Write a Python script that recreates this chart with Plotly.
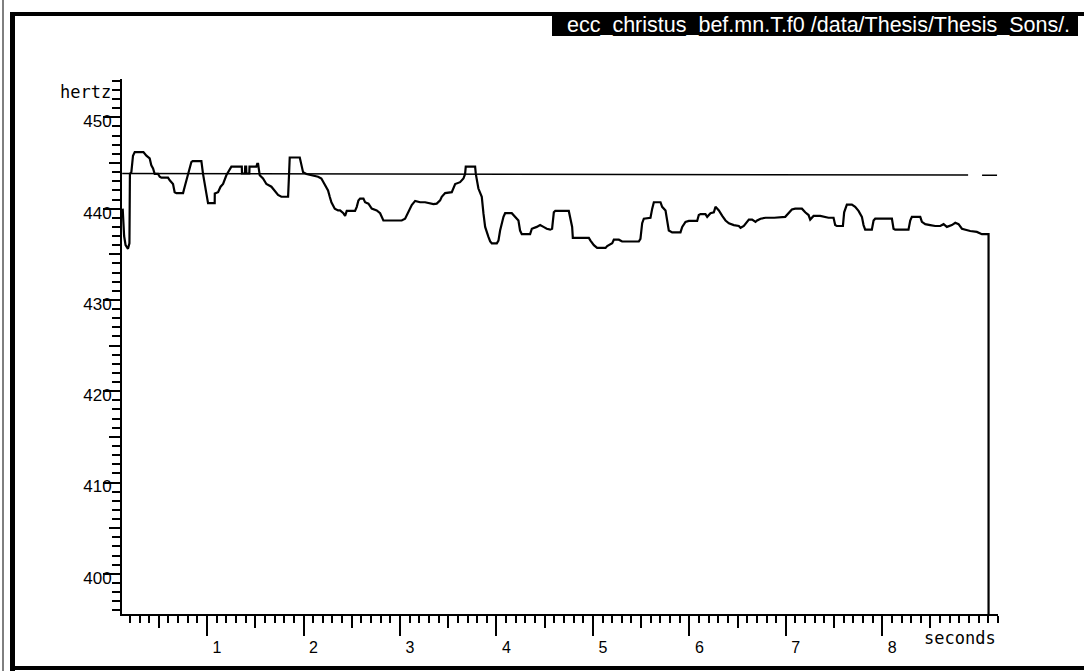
import plotly.graph_objects as go

# ---------------- data ----------------
time_s = [0.125, 0.14, 0.155, 0.18, 0.195, 0.20, 0.215, 0.232, 0.25, 0.34, 0.371, 0.405, 0.422, 0.44, 0.457,
          0.492, 0.509, 0.526, 0.595, 0.613, 0.647, 0.664, 0.682, 0.751, 0.768, 0.785, 0.803, 0.82, 0.837, 0.85,
          0.941, 0.958, 0.976, 0.993, 1.01, 1.079, 1.08, 1.114, 1.14, 1.166, 1.2, 1.217, 1.252, 1.36, 1.362,
          1.393, 1.395, 1.405, 1.407, 1.438, 1.44, 1.511, 1.52, 1.529, 1.546, 1.58, 1.615, 1.667, 1.701, 1.736,
          1.77, 1.84, 1.85, 1.857, 1.961, 1.978, 1.995, 2.03, 2.082, 2.151, 2.185, 2.22, 2.254, 2.272, 2.289,
          2.324, 2.358, 2.379, 2.413, 2.431, 2.448, 2.534, 2.552, 2.569, 2.586, 2.621, 2.638, 2.673, 2.707,
          2.759, 2.794, 2.828, 3.018, 3.053, 3.087, 3.122, 3.157, 3.209, 3.26, 3.295, 3.347, 3.381, 3.416,
          3.433, 3.468, 3.537, 3.554, 3.572, 3.623, 3.658, 3.675, 3.682, 3.779, 3.786, 3.813, 3.848, 3.865,
          3.883, 3.917, 3.935, 3.952, 4.004, 4.021, 4.038, 4.073, 4.09, 4.159, 4.194, 4.228, 4.245, 4.263,
          4.349, 4.367, 4.418, 4.453, 4.488, 4.522, 4.557, 4.577, 4.595, 4.61, 4.75, 4.767, 4.785, 4.792,
          4.958, 4.975, 5.01, 5.044, 5.131, 5.148, 5.2, 5.217, 5.269, 5.303, 5.476, 5.493, 5.511, 5.528,
          5.597, 5.615, 5.632, 5.701, 5.718, 5.753, 5.77, 5.787, 5.822, 5.908, 5.926, 5.96, 5.995, 6.081,
          6.098, 6.116, 6.167, 6.185, 6.219, 6.254, 6.271, 6.306, 6.341, 6.375, 6.41, 6.461, 6.513, 6.531,
          6.565, 6.617, 6.651, 6.686, 6.703, 6.738, 6.79, 6.88, 6.994, 7.028, 7.063, 7.097, 7.167, 7.201,
          7.236, 7.253, 7.27, 7.288, 7.357, 7.391, 7.443, 7.495, 7.512, 7.529, 7.592, 7.605, 7.626, 7.633,
          7.685, 7.719, 7.754, 7.789, 7.806, 7.823, 7.892, 7.91, 7.927, 8.1, 8.117, 8.134, 8.272, 8.29,
          8.307, 8.394, 8.411, 8.446, 8.497, 8.549, 8.601, 8.636, 8.67, 8.722, 8.757, 8.791, 8.826, 8.86,
          8.912, 8.981, 9.033, 9.102, 9.102]
f0_hz = [440.0, 437.0, 436.0, 435.6, 436.2, 443.8, 444.0, 445.8, 446.2, 446.2, 445.8, 445.5, 444.75, 444.4, 443.8,
         443.8, 443.5, 443.4, 443.4, 443.1, 442.7, 441.8, 441.7, 441.7, 442.4, 443.1, 443.8, 444.6, 445.1, 445.2,
         445.2, 443.8, 442.4, 441.65, 440.6, 440.6, 441.65, 441.8, 442.4, 442.7, 443.65, 444.0, 444.6, 444.6, 443.85,
         443.85, 444.6, 444.6, 443.85, 443.85, 444.6, 444.6, 444.9, 444.9, 443.65, 443.3, 442.7, 442.4, 442.0, 441.5,
         441.3, 441.3, 443.8, 445.6, 445.6, 444.6, 444.0, 443.8, 443.65, 443.5, 443.3, 442.7, 442.0, 441.3, 440.7,
         440.0, 439.8, 439.8, 439.5, 439.2, 439.75, 439.75, 440.2, 440.9, 441.1, 441.1, 440.7, 440.55, 440.0,
         439.8, 439.5, 438.7, 438.7, 438.9, 439.6, 440.4, 440.85, 440.7, 440.7, 440.6, 440.5, 440.55, 440.9,
         441.3, 441.7, 441.8, 442.2, 442.7, 442.9, 443.3, 443.8, 444.6, 444.6, 443.8, 442.2, 441.3, 439.5,
         438.0, 436.9, 436.4, 436.2, 436.2, 436.5, 437.6, 439.1, 439.5, 439.5, 439.1, 438.7, 437.6, 437.2,
         437.2, 437.8, 438.0, 438.2, 438.0, 437.8, 437.7, 437.8, 439.6, 439.75, 439.75, 438.9, 438.0, 436.8,
         436.8, 436.5, 436.0, 435.7, 435.7, 435.9, 436.2, 436.6, 436.6, 436.4, 436.4, 436.7, 438.4, 438.9,
         439.0, 440.0, 440.7, 440.7, 440.2, 439.8, 438.7, 437.6, 437.4, 437.4, 438.0, 438.55, 438.65, 438.65,
         439.3, 439.4, 439.4, 439.1, 439.5, 439.6, 440.2, 439.8, 439.2, 438.7, 438.4, 438.2, 438.1, 437.9,
         438.1, 438.8, 438.8, 438.55, 438.7, 438.9, 439.0, 439.0, 439.1, 439.5, 439.9, 440.0, 440.0, 439.6,
         439.3, 438.8, 439.0, 439.2, 439.2, 439.1, 439.0, 439.0, 438.2, 438.1, 438.1, 439.6, 440.4, 440.45,
         440.45, 440.2, 439.75, 439.1, 438.2, 437.7, 437.7, 438.7, 438.9, 438.9, 437.8, 437.7, 437.7, 438.7,
         439.1, 439.1, 438.55, 438.3, 438.2, 438.1, 438.1, 438.3, 438.0, 438.2, 438.45, 438.3, 437.8, 437.7,
         437.55, 437.45, 437.2, 437.2, 0.0]

# reference (horizontal) level line, with its small gap near the end
ref_t = [0.12, 8.89, None, 9.035, 9.19]
ref_f = [443.85, 443.68, None, 443.66, 443.65]

x_range = [0.118, 9.2]
y_range = [395.6, 454.2]
x_major = [1, 2, 3, 4, 5, 6, 7, 8]
x_mid = [0.5, 1.5, 2.5, 3.5, 4.5, 5.5, 6.5, 7.5, 8.5]
y_major = [400, 410, 420, 430, 440, 450]
y_mid = [405, 415, 425, 435, 445]
title_text = "ecc_christus_bef.mn.T.f0 /data/Thesis/Thesis_Sons/."

# ---------------- layout helpers ----------------
W, H = 1084, 671
L, R, T, B = 122, 86, 79, 57
PW, PH = W - L - R, H - T - B


def px_x(px):
    return (px - L) / PW


def px_y(py):
    return (H - B - py) / PH


tick_font = dict(family="Liberation Sans, Arial, sans-serif", size=17, color="black")
xtick_font = dict(family="Liberation Sans, Arial, sans-serif", size=16, color="black")
mono = dict(family="DejaVu Sans Mono, monospace", size=17, color="black")

fig = go.Figure()
fig.add_trace(go.Scatter(x=time_s, y=f0_hz, mode="lines",
                         line=dict(color="black", width=2.2), hoverinfo="skip", showlegend=False))
fig.add_trace(go.Scatter(x=ref_t, y=ref_f, mode="lines", xaxis="x2", yaxis="y2",
                         line=dict(color="black", width=1.5), hoverinfo="skip", showlegend=False))

fig.update_layout(
    width=W, height=H,
    margin=dict(l=L, r=R, t=T, b=B, pad=0),
    paper_bgcolor="white", plot_bgcolor="white",
    showlegend=False,
    xaxis=dict(range=x_range, showgrid=False, zeroline=False, showline=True, linecolor="black", linewidth=2,
               tickmode="array", tickvals=x_major, ticktext=[str(v) for v in x_major],
               ticks="outside", ticklen=20, tickwidth=2, tickcolor="black",
               tickfont=xtick_font, ticklabelshift=10, ticklabelstandoff=-2,
               minor=dict(tickmode="linear", tick0=0, dtick=0.1, ticks="outside", ticklen=7,
                          tickwidth=1.5, tickcolor="black", showgrid=False),
               fixedrange=True),
    xaxis2=dict(range=x_range, overlaying="x", anchor="y", side="bottom", showgrid=False, zeroline=False,
                showline=False, tickmode="array", tickvals=x_mid, ticks="outside", ticklen=13, tickwidth=1.5,
                tickcolor="black", showticklabels=False, fixedrange=True),
    yaxis=dict(range=y_range, showgrid=False, zeroline=False, showline=True, linecolor="black", linewidth=2,
               tickmode="array", tickvals=y_major, ticktext=[str(v) for v in y_major],
               ticks="outside", ticklen=17, tickwidth=2, tickcolor="black",
               tickfont=tick_font, ticklabelstandoff=-12, ticklabelshift=4,
               minor=dict(tickmode="linear", tick0=0, dtick=1, ticks="outside", ticklen=8,
                          tickwidth=1.5, tickcolor="black", showgrid=False),
               fixedrange=True),
    yaxis2=dict(range=y_range, overlaying="y", anchor="x", side="left", showgrid=False, zeroline=False,
                showline=False, tickmode="array", tickvals=y_mid, ticks="outside", ticklen=12, tickwidth=1.5,
                tickcolor="black", showticklabels=False, fixedrange=True),
)

# outer frame
frame = [
    dict(x0=px_x(3), x1=px_x(3), y0=px_y(0), y1=px_y(671), w=1),
    dict(x0=px_x(12.5), x1=px_x(12.5), y0=px_y(12), y1=px_y(671), w=5),
    dict(x0=px_x(10), x1=px_x(1084), y0=px_y(14), y1=px_y(14), w=4),
    dict(x0=px_x(10), x1=px_x(1084), y0=px_y(668), y1=px_y(668), w=4),
]
for s in frame:
    fig.add_shape(type="line", xref="paper", yref="paper", x0=s["x0"], x1=s["x1"], y0=s["y0"], y1=s["y1"],
                  line=dict(color="black", width=s["w"]))

# title bar
fig.add_shape(type="rect", xref="paper", yref="paper", x0=px_x(552), x1=px_x(1078), y0=px_y(36), y1=px_y(13),
              fillcolor="black", line=dict(width=0))
fig.add_annotation(xref="paper", yref="paper", x=px_x(565), y=px_y(25), xanchor="left", yanchor="middle",
                   text=title_text, showarrow=False,
                   font=dict(family="Liberation Sans, Arial, sans-serif", size=21.5, color="white"))

# axis unit labels
fig.add_annotation(xref="paper", yref="paper", x=px_x(113), y=px_y(92), xanchor="right", yanchor="middle",
                   text="hertz", showarrow=False, font=mono)
fig.add_annotation(xref="paper", yref="paper", x=px_x(998), y=px_y(638), xanchor="right", yanchor="middle",
                   text="seconds", showarrow=False, font=mono)

fig.write_html("out.html", config={"displayModeBar": False},
               post_script="document.body.style.margin='0';")
